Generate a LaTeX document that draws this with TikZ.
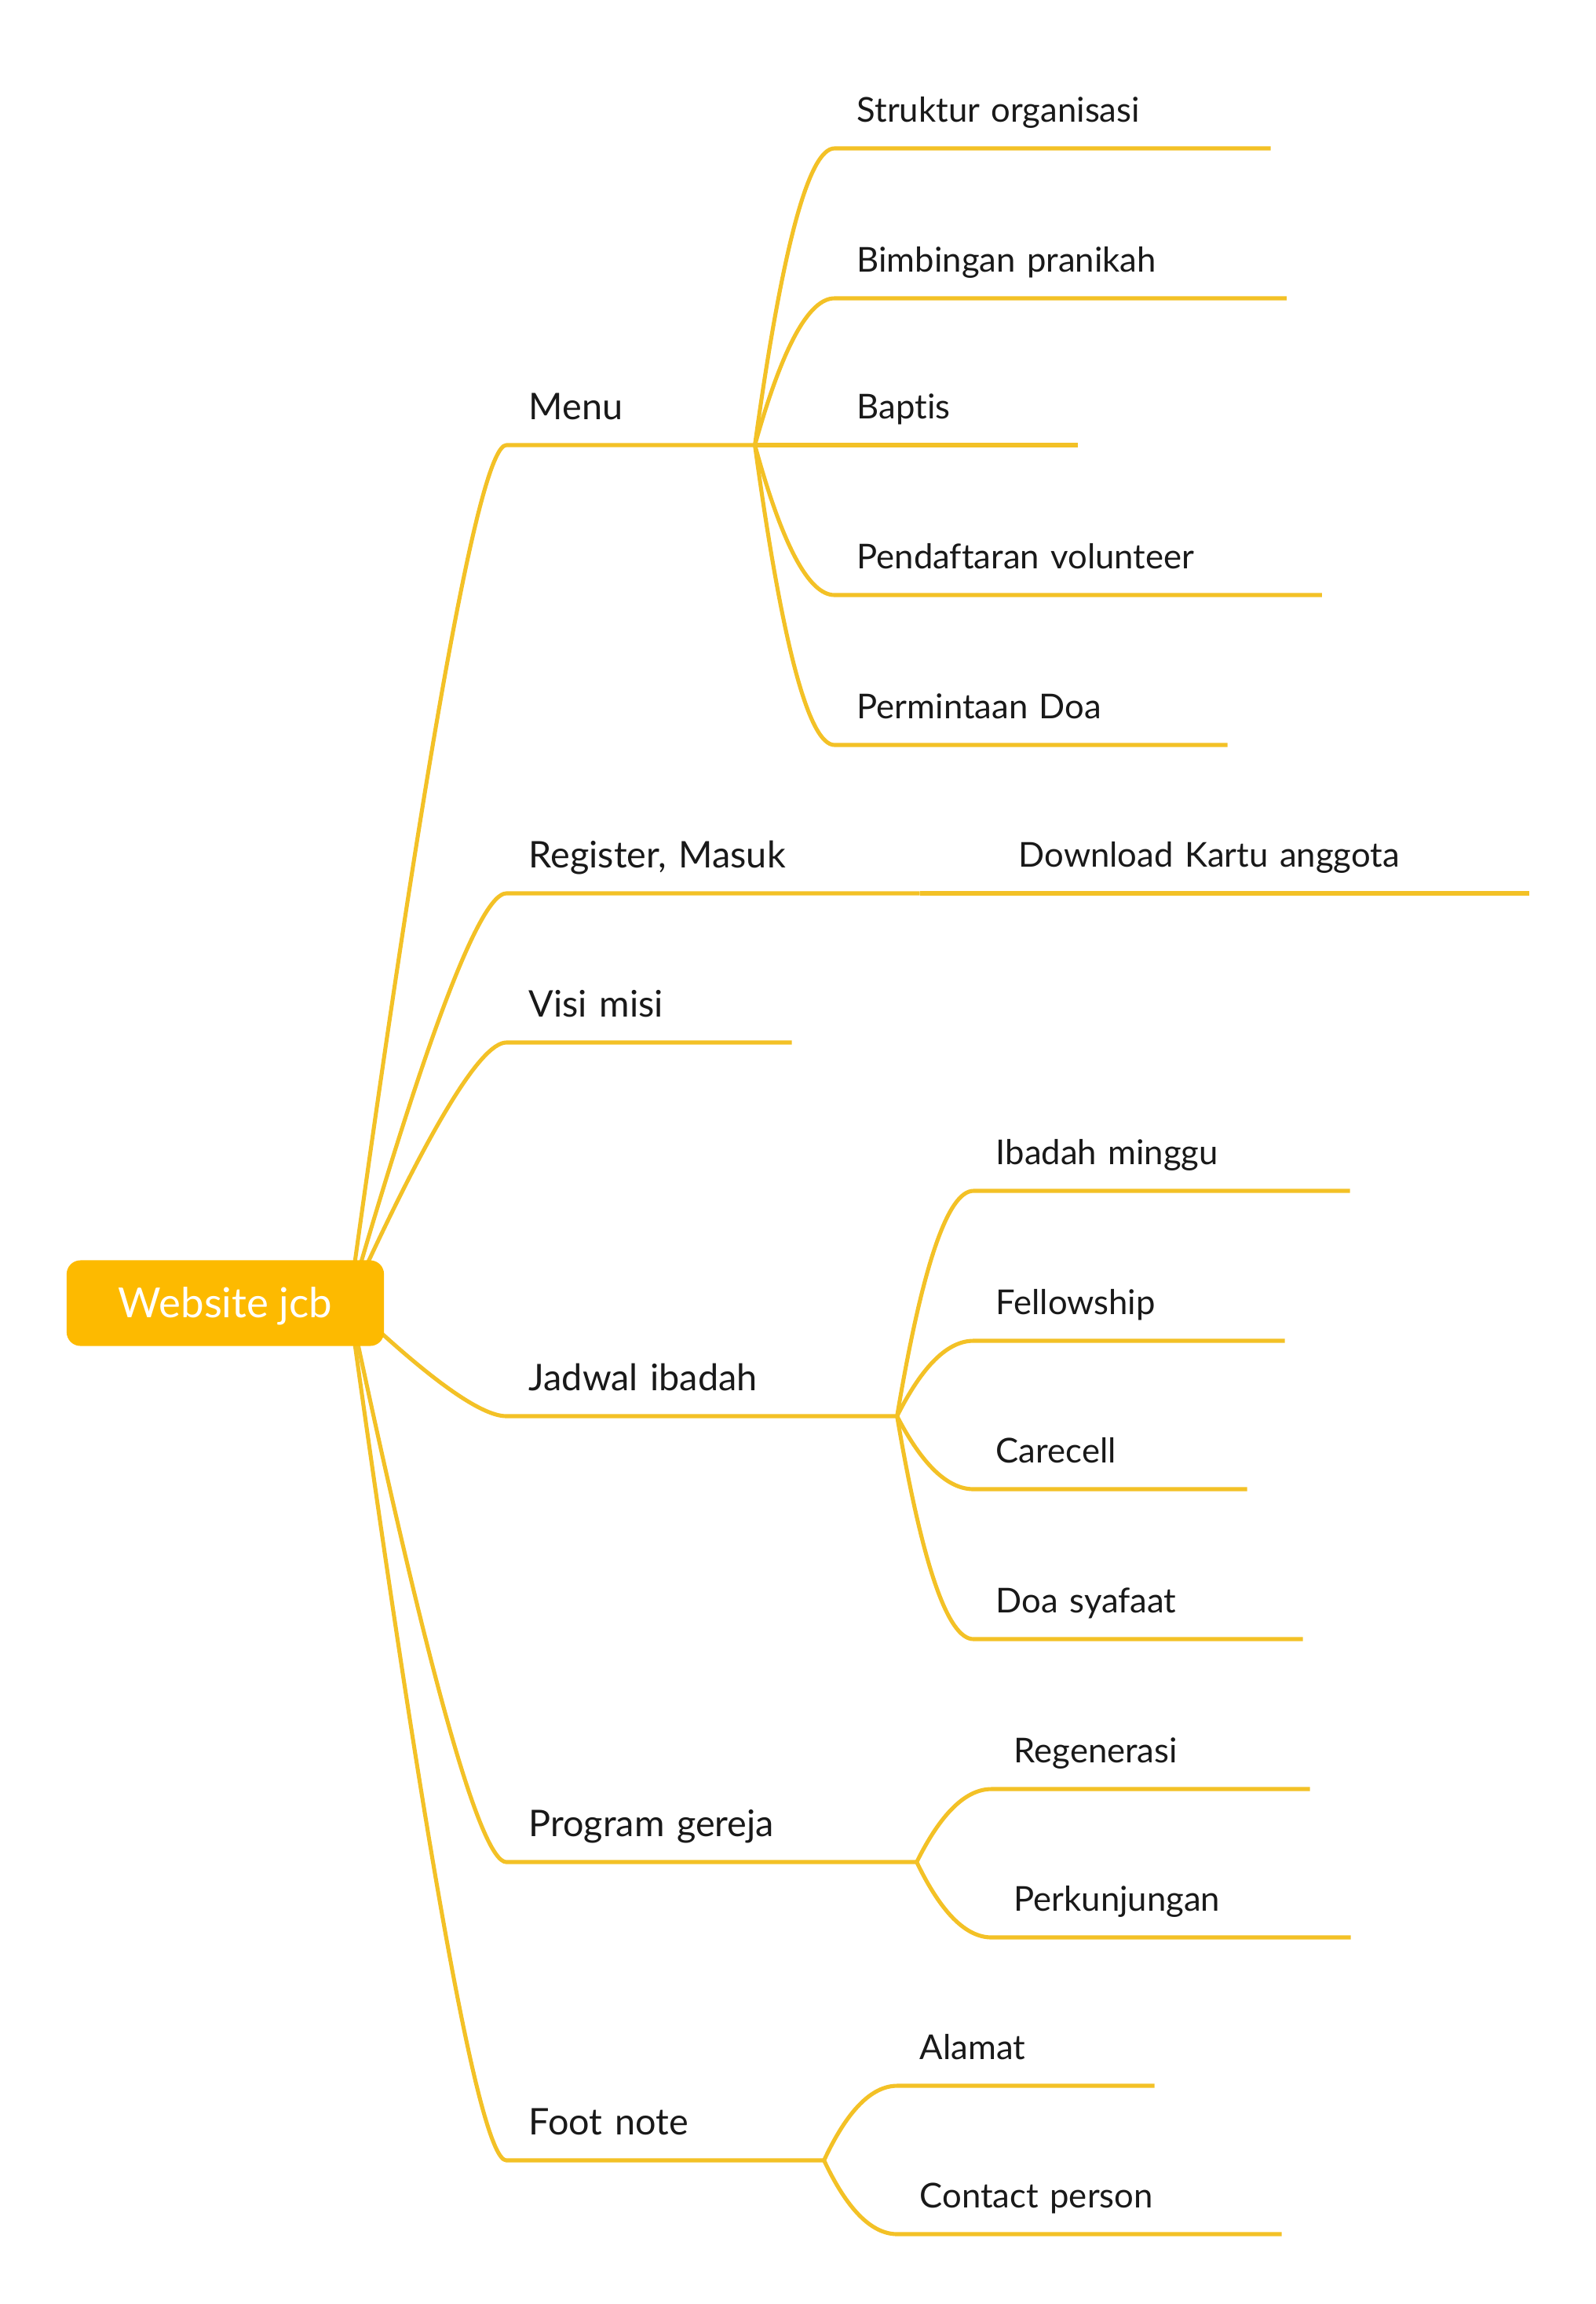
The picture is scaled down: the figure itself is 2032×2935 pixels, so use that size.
\documentclass[tikz,border=0pt]{standalone}
\usepackage{fontspec}
\setmainfont{Lato}[Ligatures=NoCommon]
\usetikzlibrary{calc,backgrounds}
\definecolor{amber}{RGB}{253,186,0}
\definecolor{branch}{RGB}{243,193,38}
\definecolor{ink}{RGB}{25,25,25}
\tikzset{
  root/.style={fill=amber,rounded corners=5pt,text=white,inner sep=0pt,
    font=\fontsize{15}{18}\selectfont,text height=1.07em,text depth=0pt,
    minimum width=4.04cm,minimum height=1.09cm},
  topic/.style={anchor=south west,text width=#1,align=left,inner xsep=0pt,inner ysep=0pt,
    text depth=0.33cm,text=ink,execute at begin node=\hspace*{0.28cm}},
  lvlone/.style={topic=#1,font=\fontsize{13.3}{16}\selectfont,text depth=0.32cm},
  lvltwo/.style={topic=#1,font=\fontsize{12.4}{15}\selectfont},
  twig/.style={draw=branch,line width=1.45pt,line join=round},
  bough/.style={to path={let \p1=(\tikztostart),\p2=(\tikztotarget) in
    .. controls ({\x1+0.667*(\x2-\x1-14pt)},{\y1+0.667*(\y2-\y1)}) and ({\x2-9.3pt},\y2) .. (\tikztotarget)}},
}
\begin{document}
\begin{tikzpicture}[x=0.01cm,y=-0.01cm]
  \useasboundingbox (0,0) rectangle (2032,2935);
  % central topic
  \node[root] (web) at (287,1660) {Website jcb};
  \coordinate (hub) at ([xshift=-0.45cm]web.east);

  % main topics
  \node[lvlone=3.15cm] (menu) at (645,567) {Menu};
  \node[lvlone=5.25cm] (reg) at (645,1138) {Register, Masuk};
  \node[lvlone=3.62cm] (visi) at (645,1328) {Visi misi};
  \node[lvlone=4.96cm] (jadwal) at (645,1804) {Jadwal ibadah};
  \node[lvlone=5.21cm] (prog) at (645,2372) {Program gereja};
  \node[lvlone=4.03cm] (foot) at (645,2752) {Foot note};

  % subtopics
  \node[lvltwo=5.54cm] (struktur) at (1063,189) {Struktur organisasi};
  \node[lvltwo=5.74cm] (bimbingan) at (1063,380) {Bimbingan pranikah};
  \node[lvltwo=3.08cm] (baptis) at (1063,567) {Baptis};
  \node[lvltwo=6.19cm] (volunteer) at (1063,758) {Pendaftaran volunteer};
  \node[lvltwo=4.99cm] (doa) at (1063,949) {Permintaan Doa};
  \node[lvltwo=6.77cm] (kartu) at (1269,1138) {Download Kartu anggota};
  \node[lvltwo=4.78cm] (minggu) at (1240,1517) {Ibadah minggu};
  \node[lvltwo=3.95cm] (fellow) at (1240,1708) {Fellowship};
  \node[lvltwo=3.47cm] (carecell) at (1240,1897) {Carecell};
  \node[lvltwo=4.18cm] (syafaat) at (1240,2088) {Doa syafaat};
  \node[lvltwo=4.04cm] (regen) at (1263,2279) {Regenerasi};
  \node[lvltwo=4.56cm] (kunjung) at (1263,2468) {Perkunjungan};
  \node[lvltwo=3.26cm] (alamat) at (1143,2657) {Alamat};
  \node[lvltwo=4.88cm] (kontak) at (1143,2846) {Contact person};

  \begin{scope}[on background layer]
    \foreach \ch in {menu,reg,visi,jadwal,prog,foot}
      \draw[twig] (hub) to[bough] (\ch.south west) -- (\ch.south east);
    \foreach \pa/\ch in {menu/struktur,menu/bimbingan,menu/baptis,menu/volunteer,menu/doa,
        reg/kartu,jadwal/minggu,jadwal/fellow,jadwal/carecell,jadwal/syafaat,
        prog/regen,prog/kunjung,foot/alamat,foot/kontak}
      \draw[twig] (\pa.south east) to[bough] (\ch.south west) -- (\ch.south east);
  \end{scope}
\end{tikzpicture}
\end{document}
